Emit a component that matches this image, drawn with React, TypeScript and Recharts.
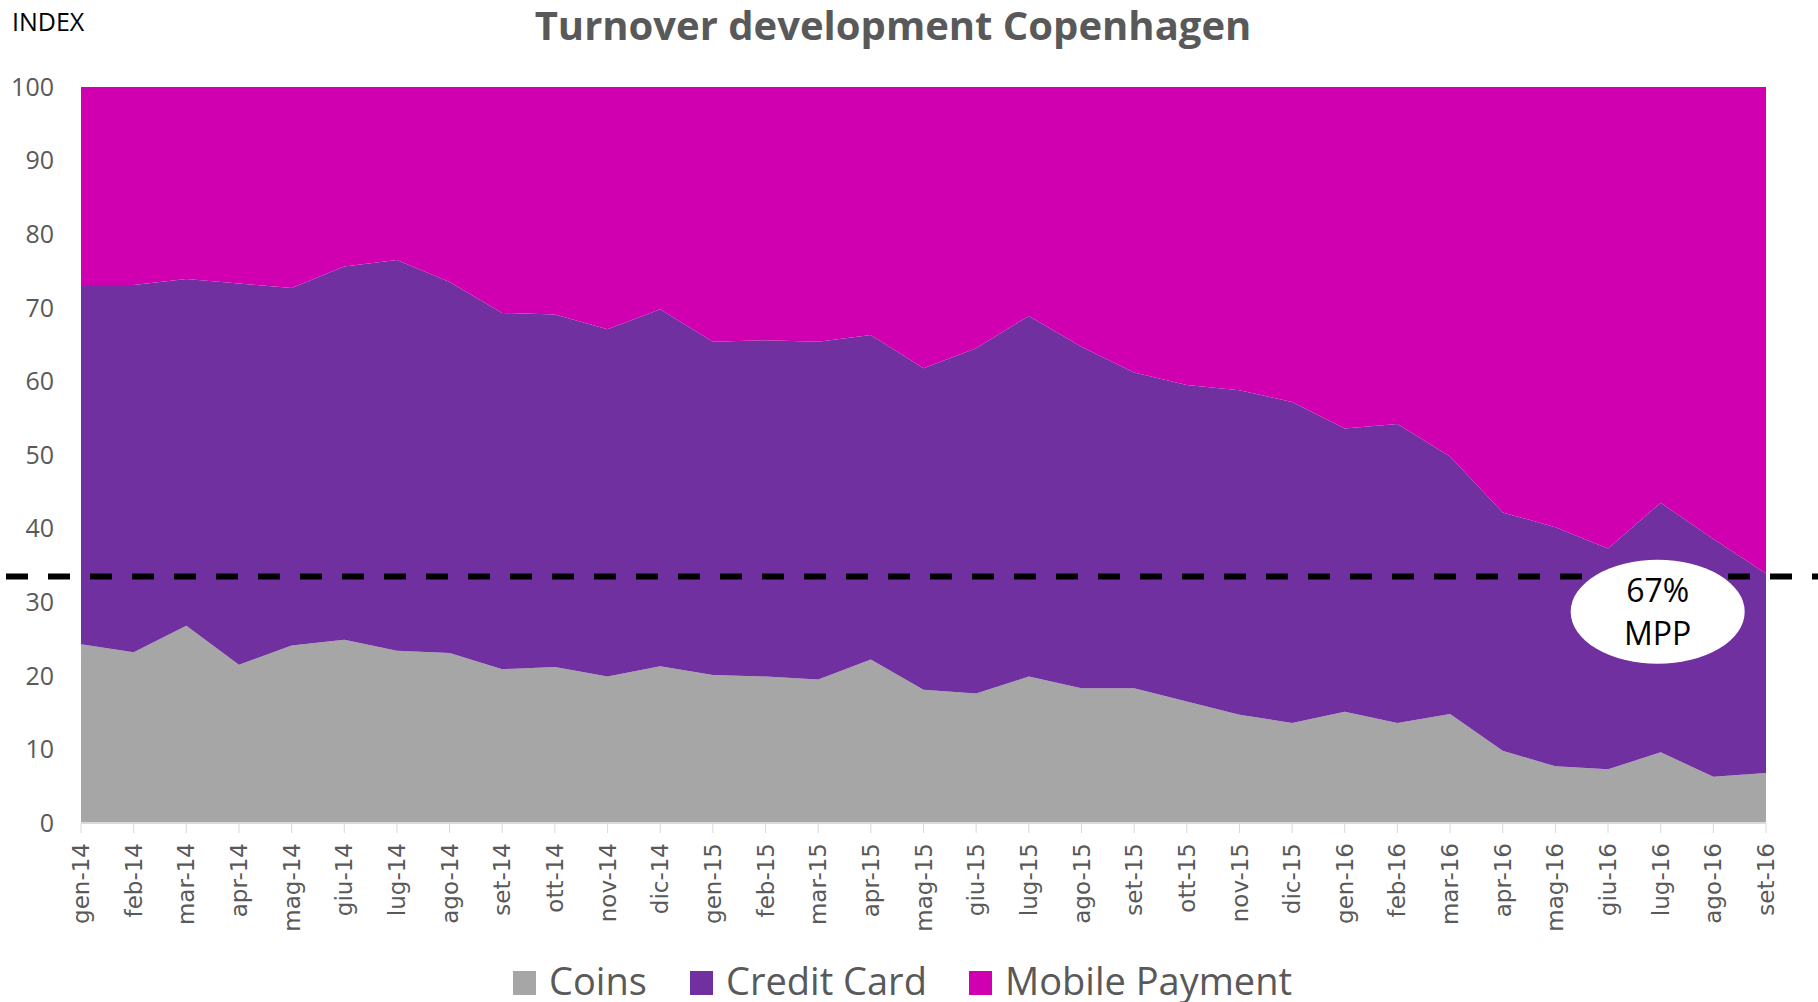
import { Area, AreaChart, ReferenceDot, ReferenceLine, XAxis, YAxis } from "recharts";

const months = [
  "gen-14", "feb-14", "mar-14", "apr-14", "mag-14", "giu-14", "lug-14", "ago-14", "set-14", "ott-14", "nov-14", "dic-14",
  "gen-15", "feb-15", "mar-15", "apr-15", "mag-15", "giu-15", "lug-15", "ago-15", "set-15", "ott-15", "nov-15", "dic-15",
  "gen-16", "feb-16", "mar-16", "apr-16", "mag-16", "giu-16", "lug-16", "ago-16", "set-16",
];

const coins = [
  24.3, 23.2, 26.8, 21.5, 24.1, 24.9, 23.4, 23.1, 20.9, 21.2, 19.9, 21.3,
  20.1, 19.9, 19.5, 22.2, 18.1, 17.6, 19.9, 18.3, 18.3, 16.5, 14.7, 13.6,
  15.1, 13.6, 14.8, 9.8, 7.7, 7.3, 9.6, 6.3, 6.8,
];

const creditCard = [
  48.8, 49.9, 47.1, 51.8, 48.6, 50.7, 53.1, 50.4, 48.4, 47.9, 47.2, 48.5,
  45.3, 45.7, 45.9, 44.1, 43.7, 46.9, 49.0, 46.4, 42.9, 43.0, 44.1, 43.6,
  38.5, 40.6, 35.0, 32.4, 32.5, 30.0, 33.9, 32.3, 27.1,
];

const mobilePayment = [
  26.9, 26.9, 26.1, 26.7, 27.3, 24.4, 23.5, 26.5, 30.7, 30.9, 32.9, 30.2,
  34.6, 34.4, 34.6, 33.7, 38.2, 35.5, 31.1, 35.3, 38.8, 40.5, 41.2, 42.8,
  46.4, 45.8, 50.2, 57.8, 59.8, 62.7, 56.5, 61.4, 66.1,
];

const yTicks = [0, 10, 20, 30, 40, 50, 60, 70, 80, 90, 100];

// threshold line and the callout bubble
const mppLevel = 33.5;
const calloutMonth = "lug-16";
const calloutLevel = 28.7;

const data = months.map((m, i) => ({
  month: m,
  coins: coins[i],
  card: creditCard[i],
  mobile: mobilePayment[i],
}));

const GREY = "#A6A6A6";
const PURPLE = "#7030A0";
const MAGENTA = "#D000B0";
const TEXT = "#595959";

const XTick = (props: any) => {
  const { x, y, payload } = props;
  return (
    <g transform={`translate(${x},${y})`}>
      <text
        transform="rotate(-90)"
        x={0}
        y={0}
        dy="0.35em"
        textAnchor="end"
        fill={TEXT}
        fontSize={23}
        fontFamily="DejaVu Sans"
      >
        {payload.value}
      </text>
    </g>
  );
};

const legendItems = [
  { label: "Coins", color: GREY, left: 513 },
  { label: "Credit Card", color: PURPLE, left: 690 },
  { label: "Mobile Payment", color: MAGENTA, left: 969 },
];

export default function App() {
  return (
    <div
      style={{
        position: "absolute",
        left: 0,
        top: 0,
        width: 1818,
        height: 1002,
        background: "#fff",
        overflow: "hidden",
        fontFamily: "'Open Sans', sans-serif",
      }}
    >
      <div style={{ position: "absolute", left: 12, top: 6, fontSize: 25, lineHeight: 1.2, color: "#000" }}>
        INDEX
      </div>
      <div
        style={{
          position: "absolute",
          left: 493,
          width: 800,
          top: 1,
          textAlign: "center",
          fontSize: 40,
          lineHeight: 1.2,
          fontWeight: 700,
          color: TEXT,
        }}
      >
        Turnover development Copenhagen
      </div>

      <AreaChart width={1818} height={1002} data={data} margin={{ top: 87, right: 52, left: 21, bottom: 69 }}>
        <XAxis
          dataKey="month"
          interval={0}
          height={110}
          tickSize={10}
          tickMargin={10}
          axisLine={{ stroke: "#d9d9d9", strokeWidth: 2 }}
          tickLine={{ stroke: "#d9d9d9" }}
          tick={<XTick />}
        />
        <YAxis
          type="number"
          domain={[0, 100]}
          ticks={yTicks}
          width={60}
          axisLine={false}
          tickLine={false}
          tickSize={6}
          tickMargin={21}
          tick={{ fill: TEXT, fontSize: 25, fontFamily: "'Open Sans', sans-serif" }}
        />
        <Area type="linear" dataKey="coins" name="Coins" stackId="1" stroke="none" fill={GREY} fillOpacity={1} isAnimationActive={false} activeDot={false} />
        <Area type="linear" dataKey="card" name="Credit Card" stackId="1" stroke="none" fill={PURPLE} fillOpacity={1} isAnimationActive={false} activeDot={false} />
        <Area type="linear" dataKey="mobile" name="Mobile Payment" stackId="1" stroke="none" fill={MAGENTA} fillOpacity={1} isAnimationActive={false} activeDot={false} />
        <ReferenceLine
          y={mppLevel}
          shape={(p: any) => (
            <line x1={6} x2={1818} y1={p.y1} y2={p.y2} stroke="#000" strokeWidth={6} strokeDasharray="22 20" />
          )}
        />
        <ReferenceDot
          x={calloutMonth}
          y={calloutLevel}
          shape={(p: any) => (
            <g>
              <ellipse cx={p.cx - 3} cy={p.cy} rx={87} ry={52} fill="#fff" />
              <text x={p.cx - 3} y={p.cy - 21} dy="0.35em" textAnchor="middle" fontSize={32} fontFamily="'Open Sans', sans-serif" fill="#000">
                67%
              </text>
              <text x={p.cx - 3} y={p.cy + 22} dy="0.35em" textAnchor="middle" fontSize={32} fontFamily="'Open Sans', sans-serif" fill="#000">
                MPP
              </text>
            </g>
          )}
        />
      </AreaChart>

      {legendItems.map((it) => (
        <div key={it.label} style={{ position: "absolute", left: it.left, top: 961, display: "flex", alignItems: "flex-start" }}>
          <div style={{ width: 23, height: 24, background: it.color, marginTop: 10, marginRight: 13 }} />
          <div style={{ fontSize: 38, lineHeight: 1, color: TEXT }}>{it.label}</div>
        </div>
      ))}
    </div>
  );
}
